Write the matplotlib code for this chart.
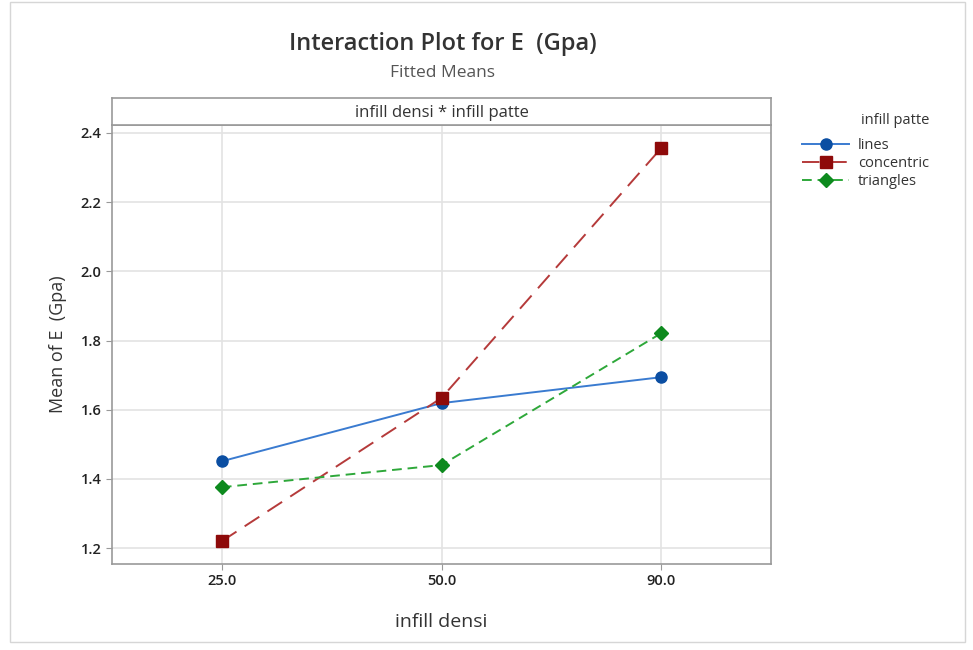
import numpy as np
import matplotlib
matplotlib.use("Agg")
import matplotlib.pyplot as plt
from matplotlib.patches import Rectangle

plt.rcParams['font.family'] = ['Open Sans', 'DejaVu Sans']

# data
densities = ['25.0', '50.0', '90.0']
lines_vals = [1.451, 1.619, 1.694]
concentric_vals = [1.220, 1.634, 2.356]
triangles_vals = [1.376, 1.440, 1.821]
y_ticks = [1.2, 1.4, 1.6, 1.8, 2.0, 2.2, 2.4]

fig = plt.figure(figsize=(9.73, 6.5), dpi=100)
ax = fig.add_axes([112/973, 1 - 564/650, 659/973, 439/650])
strip = fig.add_axes([112/973, 1 - 125/650, 659/973, 27/650])

x = np.arange(1, len(densities) + 1)
ax.plot(x, lines_vals, color='#3a7bd0', lw=1.4, marker='o', ms=8,
        mfc='#0b4ea2', mec='#0b4ea2', label='lines', zorder=3)
ax.plot(x, concentric_vals, color='#b53a3a', lw=1.4, ls=(0, (9, 5)), marker='s', ms=8,
        mfc='#8e0a0a', mec='#8e0a0a', label='concentric', zorder=3)
ax.plot(x, triangles_vals, color='#2ea83a', lw=1.4, ls=(0, (5, 3)), marker='D', ms=7,
        mfc='#0d8a1e', mec='#0d8a1e', label='triangles', zorder=3)

ax.set_xlim(0.5, 3.5)
ax.set_ylim(1.154, 2.423)
ax.set_xticks(x)
ax.set_xticklabels(densities)
ax.set_yticks(y_ticks)
ax.set_yticklabels([f'{v:.1f}' for v in y_ticks])
ax.grid(True, color='#e3e3e3', lw=1.2)
ax.set_axisbelow(True)
ax.tick_params(labelsize=10.5, colors='#222222', length=4, color='#999999')
for lab in ax.get_xticklabels() + ax.get_yticklabels():
    lab.set_fontweight('semibold')
for s in ax.spines.values():
    s.set_color('#999999')
    s.set_linewidth(1.2)

ax.set_xlabel('infill densi', fontsize=14, color='#333333', labelpad=18)
ax.set_ylabel('Mean of E  (Gpa)', fontsize=13, color='#333333', labelpad=10)

strip.set_xticks([])
strip.set_yticks([])
for s in strip.spines.values():
    s.set_color('#999999')
    s.set_linewidth(1.2)
strip.text(0.5, 0.45, 'infill densi * infill patte', ha='center', va='center',
           fontsize=12, color='#333333', transform=strip.transAxes)

fig.text(0.455, 1 - 44/650, 'Interaction Plot for E  (Gpa)', ha='center', va='center',
         fontsize=17, fontweight='semibold', color='#333333')
fig.text(0.455, 1 - 73/650, 'Fitted Means', ha='center', va='center',
         fontsize=12.5, color='#555555')

fig.text(861/973, 1 - 121/650, 'infill patte', ha='left', va='center',
         fontsize=10.5, color='#333333')
fig.legend(loc='upper left', bbox_to_anchor=(795/973, 1 - 131/650), frameon=False,
           fontsize=10.5, handlelength=3.2, labelspacing=0.2, handletextpad=0.6,
           labelcolor='#333333', borderpad=0)

# faint outer frame as in the screenshot
fig.patches.append(Rectangle((10/973, 8/650), 955/973, 640/650, transform=fig.transFigure,
                             fill=False, edgecolor='#d6d6d6', lw=1))

fig.savefig('out.png', dpi=100)
